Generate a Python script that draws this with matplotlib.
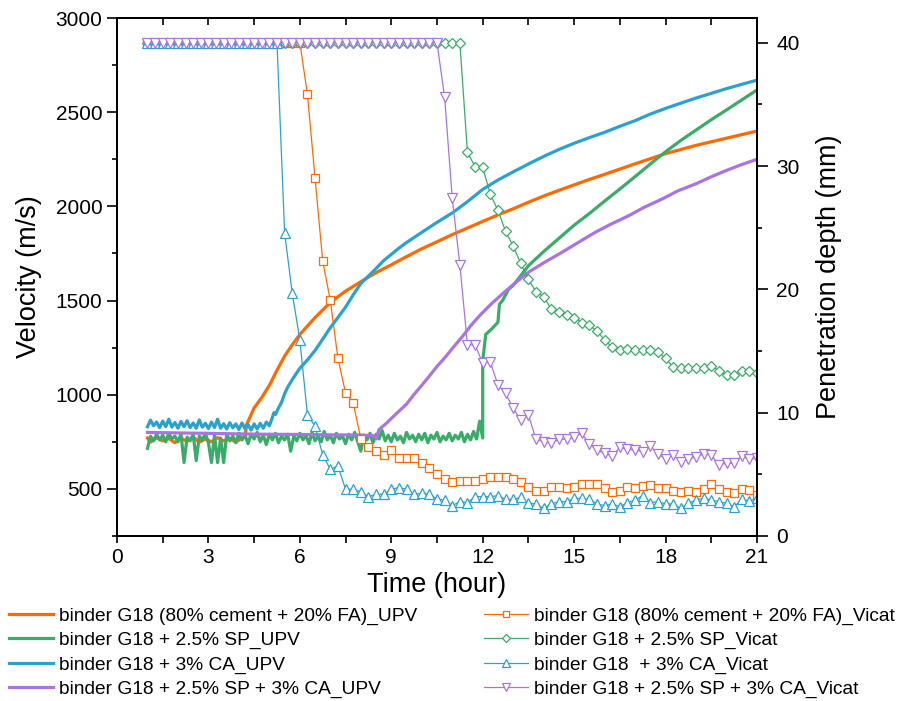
import matplotlib as mpl
import matplotlib.pyplot as plt
import numpy as np
from matplotlib.ticker import MultipleLocator


# GLOBAL
OUT_FILE = "out.png"
ORANGE = "#ff6a00"
GREEN = "#3aab68"
BLUE = "#2aa2cd"
PURPLE = "#a974e0"

LABELS_UPV = [
    "binder G18 (80% cement + 20% FA)_UPV",
    "binder G18 + 2.5% SP_UPV",
    "binder G18 + 3% CA_UPV",
    "binder G18 + 2.5% SP + 3% CA_UPV",
]
LABELS_VICAT = [
    "binder G18 (80% cement + 20% FA)_Vicat",
    "binder G18 + 2.5% SP_Vicat",
    "binder G18  + 3% CA_Vicat",
    "binder G18 + 2.5% SP + 3% CA_Vicat",
]

# UPV - binder G18 (80% cement + 20% FA)
fa_upv_time = [
    1.0, 1.1, 1.3, 1.5, 1.7, 1.9, 2.1, 2.3, 2.5, 2.7, 2.9, 3.1, 3.3, 3.5,
    3.7, 3.9, 4.1, 4.2, 4.25, 4.5, 4.75, 5.0, 5.25, 5.5, 5.75, 6.0, 6.5,
    7.0, 7.5, 8.0, 8.5, 9.0, 9.5, 10.0, 10.5, 11.0, 11.5, 12.0, 12.5, 13.0,
    13.5, 14.0, 14.5, 15.0, 15.5, 16.0, 16.5, 17.0, 17.5, 18.0, 18.5, 19.0,
    19.5, 20.0, 20.5, 21.0,
]
fa_upv_vel = [
    770, 748, 772, 755, 768, 745, 770, 752, 775, 748, 765, 750, 772, 755,
    768, 748, 770, 775, 840, 930, 985, 1050, 1130, 1205, 1265, 1320, 1410,
    1490, 1550, 1600, 1648, 1690, 1733, 1775, 1812, 1850, 1885, 1920, 1955,
    1987, 2022, 2055, 2085, 2114, 2143, 2170, 2198, 2226, 2253, 2280, 2302,
    2324, 2343, 2362, 2381, 2400,
]

# UPV - binder G18 + 2.5% SP (baseline read every 0.1 h up to 12 h)
sp_base_vel = [
    715, 780, 755, 790, 760, 785, 750, 795, 765, 780, 750, 790, 640, 775,
    755, 790, 650, 780, 760, 795, 745, 640, 785, 640, 770, 640, 790, 755,
    780, 745, 795, 760, 785, 740, 790, 765, 800, 750, 785, 735, 790, 760,
    795, 745, 780, 760, 790, 700, 780, 755, 795, 760, 785, 740, 800, 755,
    780, 750, 805, 760, 785, 745, 795, 765, 780, 740, 790, 760, 800, 750,
    700, 785, 760, 795, 745, 790, 765, 810, 755, 785, 750, 795, 760, 780,
    745, 800, 765, 785, 750, 790, 760, 795, 745, 785, 765, 800, 750, 780,
    760, 795, 755, 785, 765, 800, 750, 790, 760, 805, 765, 860, 770,
]
sp_rise_time = [
    12.0, 12.1, 12.3, 12.5, 12.55, 12.65, 12.85, 13.0, 13.5, 14.0, 14.5,
    15.0, 15.5, 16.0, 16.5, 17.0, 17.5, 18.0, 18.5, 19.0, 19.5, 20.0,
    20.5, 21.0,
]
sp_rise_vel = [
    1180, 1320, 1350, 1385, 1480, 1500, 1560, 1580, 1685, 1760, 1830,
    1900, 1962, 2028, 2092, 2158, 2225, 2290, 2350, 2405, 2460, 2512,
    2565, 2618,
]

# UPV - binder G18 + 3% CA (baseline read every 0.1 h up to 5 h)
ca_base_vel = [
    830, 865, 835, 855, 825, 860, 830, 870, 828, 852, 822, 858, 830, 862,
    825, 850, 822, 866, 828, 848, 820, 855, 826, 870, 822, 846, 818, 852,
    824, 845, 815, 850, 820, 842, 812, 845, 818, 848, 822, 855, 835,
]
ca_rise_time = [
    5.1, 5.15, 5.2, 5.3, 5.4, 5.5, 5.6, 5.75, 5.9, 6.0, 6.25, 6.5, 6.75,
    7.0, 7.25, 7.5, 7.75, 8.0, 8.25, 8.5, 8.75, 9.0, 9.25, 9.5, 9.75,
    10.0, 10.5, 11.0, 11.5, 12.0, 12.5, 13.0, 13.5, 14.0, 14.5, 15.0,
    15.5, 16.0, 16.5, 17.0, 17.5, 18.0, 18.5, 19.0, 19.5, 20.0, 20.5, 21.0,
]
ca_rise_vel = [
    880, 905, 895, 930, 960, 1005, 1040, 1080, 1117, 1140, 1185, 1235,
    1295, 1356, 1410, 1465, 1530, 1590, 1630, 1670, 1712, 1745, 1778,
    1808, 1835, 1862, 1915, 1965, 2025, 2090, 2140, 2183, 2225, 2265,
    2302, 2335, 2365, 2393, 2425, 2455, 2490, 2520, 2548, 2575, 2600,
    2625, 2648, 2670,
]

# UPV - binder G18 + 2.5% SP + 3% CA
spca_upv_time = [
    1.0, 2.0, 3.0, 4.0, 5.0, 6.0, 7.0, 8.0, 8.4, 8.5, 8.55, 8.6, 8.85,
    9.2, 9.5, 9.75, 10.0, 10.25, 10.5, 10.8, 11.0, 11.35, 11.6, 11.9,
    12.3, 12.7, 13.1, 13.5, 14.0, 14.6, 15.1, 15.7, 16.2, 16.8, 17.3,
    17.9, 18.4, 19.0, 19.5, 20.0, 20.5, 21.0,
]
spca_upv_vel = [
    800, 797, 795, 792, 790, 789, 787, 786, 783, 765, 790, 815, 850,
    905, 950, 1002, 1050, 1099, 1150, 1205, 1245, 1312, 1365, 1420,
    1485, 1543, 1598, 1650, 1700, 1756, 1805, 1863, 1905, 1951, 1995,
    2040, 2082, 2120, 2157, 2191, 2222, 2250,
]

# Vicat penetration depth (mm), one reading every 15 min from 1 h to 21 h
vicat_time = np.arange(1.0, 21.01, 0.25)
fa_vicat = [40.0] * 21 + [
    35.8, 29.0, 22.3, 19.1, 14.4, 11.6, 10.8, 7.9, 7.2, 6.9, 6.6, 7.0,
    6.3, 6.3, 6.3,
    5.89, 5.48, 5.02, 4.59, 4.40, 4.48, 4.48, 4.48, 4.61, 4.80, 4.80,
    4.80, 4.61, 4.35, 3.94, 3.67, 3.67, 4.00, 4.00, 3.86, 4.00, 4.21,
    4.21, 4.21, 3.86, 3.59, 3.67, 4.00, 3.86, 4.07, 4.13, 3.86, 3.86,
    3.67, 3.59, 3.67, 3.59, 3.81, 4.21, 3.81, 3.59, 3.45, 3.78, 3.73, 3.32,
]
sp_vicat = [40.0] * 42 + [
    31.1, 29.95, 29.9, 27.7, 26.4, 24.7, 23.5, 22.1, 20.8, 19.8, 19.4,
    18.4, 18.2, 17.9, 17.7, 17.3, 17.1, 16.6, 15.9, 15.3, 15.1, 15.2,
    15.1, 15.1, 15.1, 14.95, 14.4, 13.7, 13.6, 13.6, 13.6, 13.6, 13.8,
    13.4, 13.06, 13.06, 13.4, 13.4, 13.25,
]
ca_vicat = [40.0] * 18 + [
    24.6, 19.7, 15.9, 9.8, 8.9, 6.57, 5.4, 5.68, 3.79, 3.79, 3.57, 3.19,
    3.38, 3.38, 3.79, 3.92, 3.79, 3.38,
    3.46, 3.38, 3.00, 2.92, 2.46, 2.78, 2.70, 3.19, 3.19, 3.19, 3.27,
    2.97, 2.97, 3.13, 2.65, 2.60, 2.24, 2.60, 2.78, 2.78, 3.05, 3.05,
    2.97, 2.60, 2.46, 2.60, 2.38, 2.70, 2.92, 3.27, 2.70, 2.78, 2.60,
    2.60, 2.24, 2.65, 2.92, 3.05, 2.92, 2.78, 2.65, 2.38, 2.97, 2.84, 3.05,
]
spca_vicat = [40.0] * 39 + [
    35.6, 27.4, 22.0,
    15.5, 15.5, 14.0, 14.1, 12.25, 11.57, 10.35, 9.41, 9.81, 7.84, 7.65,
    7.52, 7.84, 7.84, 8.0, 8.33, 7.46, 6.97, 6.70, 6.49, 7.19, 7.03,
    6.97, 6.84, 7.30, 6.65, 6.22, 6.57, 6.03, 6.22, 6.43, 6.65, 6.57,
    5.76, 5.90, 5.90, 6.49, 6.22, 6.30,
]


def rc_setup() -> None:
    """Utility - Generalized plot attributes"""
    mpl.rcParams["font.family"] = ["Liberation Sans", "DejaVu Sans"]
    mpl.rcParams["axes.linewidth"] = 1.4
    mpl.rcParams["xtick.labelsize"] = 15
    mpl.rcParams["ytick.labelsize"] = 15
    mpl.rcParams["xtick.major.width"] = 1.2
    mpl.rcParams["ytick.major.width"] = 1.2
    mpl.rcParams["xtick.minor.width"] = 1.2
    mpl.rcParams["ytick.minor.width"] = 1.2
    mpl.rcParams["xtick.major.size"] = 5
    mpl.rcParams["ytick.major.size"] = 7
    mpl.rcParams["xtick.minor.size"] = 5
    mpl.rcParams["ytick.minor.size"] = 3.5
    mpl.rcParams["legend.frameon"] = False


def plot_upv_vicat() -> None:
    """UPV velocity (left axis) and Vicat penetration depth (right axis)"""
    fig = plt.figure(figsize=(9.19, 7.01), dpi=100)
    ax = fig.add_axes([0.1273, 0.2354, 0.6964, 0.7389])
    ax2 = ax.twinx()

    # Stitch baselines to the setting branches
    sp_time = list(np.round(np.arange(1.0, 12.01, 0.1), 2)) + sp_rise_time
    sp_vel = sp_base_vel + sp_rise_vel
    ca_time = list(np.round(np.arange(1.0, 5.01, 0.1), 2)) + ca_rise_time
    ca_vel = ca_base_vel + ca_rise_vel

    # UPV curves
    upv = [
        (fa_upv_time, fa_upv_vel, ORANGE),
        (sp_time, sp_vel, GREEN),
        (ca_time, ca_vel, BLUE),
        (spca_upv_time, spca_upv_vel, PURPLE),
    ]
    upv_handles = []
    for (time, vel, col), lab in zip(upv, LABELS_UPV):
        line, = ax.plot(time, vel, color=col, lw=2.3, label=lab)
        upv_handles.append(line)

    # Vicat curves with open markers
    vicat = [
        (fa_vicat, ORANGE, "s", 5.5),
        (sp_vicat, GREEN, "D", 5.0),
        (ca_vicat, BLUE, "^", 6.5),
        (spca_vicat, PURPLE, "v", 6.5),
    ]
    vicat_handles = []
    for (depth, col, mark, size), lab in zip(vicat, LABELS_VICAT):
        line, = ax2.plot(
            vicat_time, depth, color=col, lw=0.9, marker=mark,
            markersize=size, markerfacecolor="white",
            markeredgecolor=col, markeredgewidth=0.9, label=lab
        )
        vicat_handles.append(line)

    # Axes limits, ticks and labels
    ax.set(xlim=(0, 21), ylim=(250, 3000))
    ax.xaxis.set_major_locator(MultipleLocator(3))
    ax.xaxis.set_minor_locator(MultipleLocator(1.5))
    ax.yaxis.set_minor_locator(MultipleLocator(250))
    ax.set_yticks([500, 1000, 1500, 2000, 2500, 3000])
    ax.tick_params(axis="x", pad=4)
    ax.set_xlabel("Time (hour)", fontsize=19.5, labelpad=3)
    ax.set_ylabel("Velocity (m/s)", fontsize=19.5, labelpad=10)

    ax2.set_ylim(0, 42)
    ax2.yaxis.set_major_locator(MultipleLocator(10))
    ax2.yaxis.set_minor_locator(MultipleLocator(5))
    ax2.tick_params(axis="y", which="major", length=8, pad=6)
    ax2.set_ylabel("Penetration depth (mm)", fontsize=19.5, labelpad=12)

    # Top axis carries inward ticks only
    top = ax.secondary_xaxis("top")
    top.xaxis.set_major_locator(MultipleLocator(3))
    top.xaxis.set_minor_locator(MultipleLocator(1.5))
    top.tick_params(which="both", direction="in", labeltop=False, length=5)

    # Legends below the plot, UPV on the left and Vicat on the right
    common = dict(
        loc="upper left", fontsize=13.8, handlelength=2.3,
        handletextpad=0.3, labelspacing=0.36, borderaxespad=0,
        markerscale=0.8
    )
    fig.legend(handles=upv_handles, bbox_to_anchor=(0.0015, 0.145),
               **common)
    fig.legend(handles=vicat_handles, bbox_to_anchor=(0.518, 0.145),
               **common)

    plt.savefig(OUT_FILE, dpi=100)
    plt.close()
    return None


if __name__ == "__main__":
    rc_setup()
    plot_upv_vicat()
